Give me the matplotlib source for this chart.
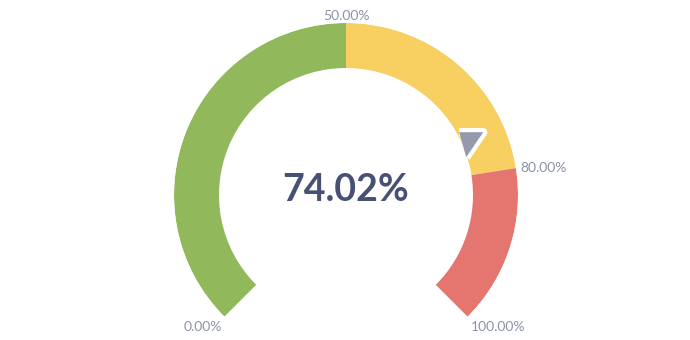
import numpy as np
import matplotlib
matplotlib.use("Agg")
import matplotlib.pyplot as plt
from matplotlib.markers import MarkerStyle

# Data
band_starts = [0, 50, 80]
band_ends = [50, 80, 100]
band_colors = ["#91b95b", "#f8d061", "#e4756f"]
tick_values = [0, 50, 80, 100]
tick_labels = ["0.00%", "50.00%", "80.00%", "100.00%"]
value = 74.02
value_label = "74.02%"

W, H = 690, 340
fig = plt.figure(figsize=(W / 100, H / 100), dpi=100)
plt.rcParams['font.family'] = ['Lato', 'DejaVu Sans']

cx, cy = 346, 195  # center in pixels (y from top)
R_out, R_in = 172, 127

ax = fig.add_axes([(cx - R_out) / W, (H - cy - R_out) / H, 2 * R_out / W, 2 * R_out / H],
                  projection='polar')
ax.set_theta_direction(-1)
ax.set_theta_offset(np.deg2rad(225))
ax.set_rlim(0, R_out)
ax.axis('off')
ax.patch.set_alpha(0)


def th(v):
    return np.deg2rad(v / 100 * 270)


for s, e, c in zip(band_starts, band_ends, band_colors):
    ax.bar(th((s + e) / 2), R_out - R_in, width=th(e) - th(s), bottom=R_in,
           color=c, edgecolor='none', linewidth=0, align='center')

label_color = "#8d92a8"
offsets = {0: ((-2, -3), 'right', 'top'),
           50: ((0, 1), 'center', 'bottom'),
           80: ((3, 0), 'left', 'center'),
           100: ((2, -3), 'left', 'top')}
for v, lab in zip(tick_values, tick_labels):
    (dx, dy), ha, va = offsets[v]
    ax.annotate(lab, xy=(th(v), R_out), xytext=(dx, dy),
                textcoords='offset points', ha=ha, va=va, fontsize=10,
                color=label_color, annotation_clip=False)

# pointer
verts = [(-10.3, 5.3), (13.7, 5.3), (-3.3, -19.7)]
mk = MarkerStyle(verts, joinstyle='miter')
ax.plot([th(value)], [136], marker=mk, markersize=28.4, markerfacecolor='white',
        markeredgecolor='white', markeredgewidth=6, linestyle='none', clip_on=False)
ax.plot([th(value)], [136], marker=mk, markersize=28.4, markerfacecolor='#9499ac',
        markeredgecolor='none', linestyle='none', clip_on=False)

fig.text(cx / W, 1 - 190 / H, value_label, ha='center', va='center', fontsize=27,
         fontweight='bold', color='#465173')

fig.savefig("out.png", dpi=100)
